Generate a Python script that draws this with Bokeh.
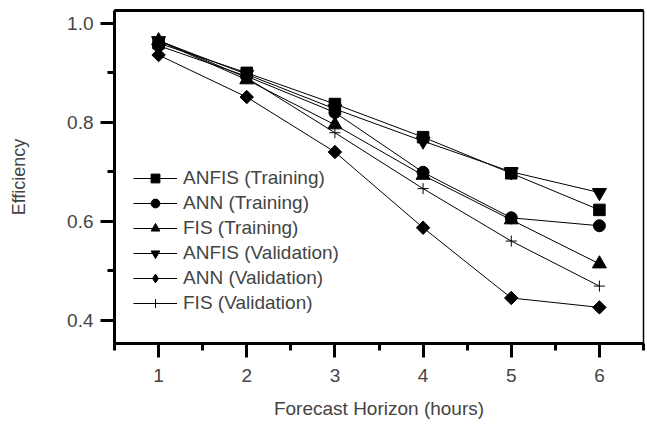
import math
from bokeh.plotting import figure
from bokeh.models import (Range1d, LinearAxis, Legend, LegendItem, FixedTicker,
                          ColumnDataSource, NumeralTickFormatter)
from bokeh.embed import file_html
from bokeh.resources import INLINE

hours = [1, 2, 3, 4, 5, 6]
anfis_train = [0.960, 0.900, 0.837, 0.770, 0.697, 0.623]
ann_train = [0.955, 0.893, 0.820, 0.699, 0.607, 0.591]
fis_train = [0.965, 0.886, 0.795, 0.693, 0.603, 0.514]
anfis_val = [0.965, 0.897, 0.827, 0.762, 0.700, 0.658]
ann_val = [0.936, 0.851, 0.740, 0.587, 0.445, 0.426]
fis_val = [0.966, 0.890, 0.779, 0.666, 0.560, 0.469]

# name, values, plot marker, plot size, angle, legend marker
series = [
    ("ANFIS (Training)", anfis_train, "square", 11.5, 0.0, "square"),
    ("ANN (Training)", ann_train, "circle", 12, 0.0, "circle"),
    ("FIS (Training)", fis_train, "triangle", 14, 0.0, "triangle"),
    ("ANFIS (Validation)", anfis_val, "inverted_triangle", 14, 0.0, "inverted_triangle"),
    ("ANN (Validation)", ann_val, "square", 9.5, math.pi / 4, "diamond"),
    ("FIS (Validation)", fis_val, "cross", 11, 0.0, "cross"),
]

FONT = "Liberation Sans"

p = figure(width=647, height=426, output_backend="svg", toolbar_location=None,
           x_range=Range1d(0.5, 6.5), y_range=Range1d(0.353, 1.026),
           min_border_left=114, min_border_right=4, min_border_top=10, min_border_bottom=83)
p.xgrid.visible = False
p.ygrid.visible = False
p.outline_line_color = "black"
p.outline_line_width = 1.5
p.background_fill_color = "white"
p.border_fill_color = "white"

items = []
for name, vals, marker, size, ang, lmarker in series:
    src = ColumnDataSource(dict(x=hours, y=vals))
    p.line("x", "y", source=src, line_color="black", line_width=1)
    p.scatter("x", "y", source=src, marker=marker, size=size, angle=ang,
              fill_color="black", line_color="black", line_width=1)
    # legend-only glyphs (nothing drawn in the plot area)
    nan_src = ColumnDataSource(dict(x=[float("nan")], y=[float("nan")]))
    l1 = p.line("x", "y", source=nan_src, line_color="black", line_width=1)
    l2 = p.scatter("x", "y", source=nan_src, marker=lmarker, size=9,
                   fill_color="black", line_color="black", line_width=1)
    items.append(LegendItem(label=name, renderers=[l1, l2]))

legend = Legend(items=items, location=(19, 28), padding=0, margin=0, spacing=0,
                glyph_width=44, glyph_height=22, label_height=25, label_standoff=6,
                label_text_font=FONT, label_text_font_size="19px",
                border_line_color=None, background_fill_alpha=0)
p.add_layout(legend, "center")

xa = p.xaxis[0]
xa.ticker = FixedTicker(ticks=hours, minor_ticks=[0.5, 1.5, 2.5, 3.5, 4.5, 5.5, 6.5])
xa.axis_line_width = 3
xa.major_tick_line_width = 3
xa.minor_tick_line_width = 3
xa.major_tick_out = 14
xa.major_tick_in = 0
xa.minor_tick_out = 7
xa.minor_tick_in = 0
xa.major_label_standoff = 11
xa.major_label_text_font = FONT
xa.major_label_text_font_size = "19px"
xa.axis_label = "Forecast Horizon (hours)"
xa.axis_label_text_font = FONT
xa.axis_label_text_font_size = "19px"
xa.axis_label_text_font_style = "normal"
xa.axis_label_standoff = 13

ya = p.yaxis[0]
ya.ticker = FixedTicker(ticks=[0.4, 0.6, 0.8, 1.0], minor_ticks=[0.5, 0.7, 0.9])
ya.formatter = NumeralTickFormatter(format="0.0")
ya.axis_line_width = 3
ya.major_tick_line_width = 3
ya.minor_tick_line_width = 3
ya.major_tick_out = 14
ya.major_tick_in = 0
ya.minor_tick_out = 7
ya.minor_tick_in = 0
ya.major_label_standoff = 7
ya.major_label_text_font = FONT
ya.major_label_text_font_size = "19px"
ya.axis_label = "Efficiency"
ya.axis_label_text_font = FONT
ya.axis_label_text_font_size = "18px"
ya.axis_label_text_font_style = "normal"
ya.axis_label_standoff = 35

top = LinearAxis(ticker=FixedTicker(ticks=[], minor_ticks=[]),
                 axis_line_width=3, major_tick_in=0, major_tick_out=0,
                 minor_tick_out=0, minor_tick_in=0, major_label_standoff=0)
p.add_layout(top, "above")

open("out.html", "w").write(file_html(p, INLINE))
